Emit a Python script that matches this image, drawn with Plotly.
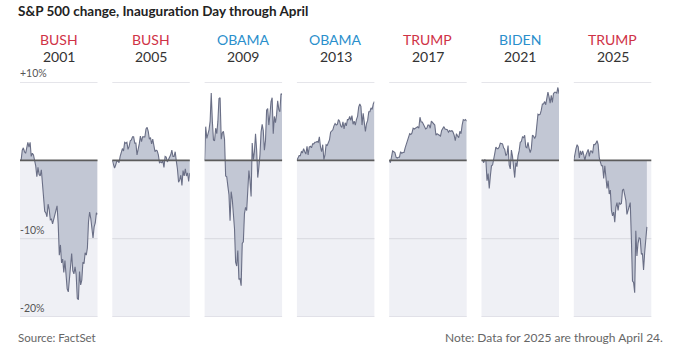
import plotly.graph_objects as go

W, H = 679, 362

presidents = ["BUSH", "BUSH", "OBAMA", "OBAMA", "TRUMP", "BIDEN", "TRUMP"]
years = ["2001", "2005", "2009", "2013", "2017", "2021", "2025"]
parties = ["R", "R", "D", "D", "R", "D", "R"]

# % change vs. close before Inauguration Day, trading days through April
chg_2001 = [0, 0.0, 1.3, 1.6, 1.1, 0.9, 1.6, 2.3, 1.7,
            2.3, 0.5, 0.9, 0.7, -0.1, -0.7, -2.1, -0.9, -1.8, -2.0, -1.2, -3.1, -4.7, -6.5, -6.7, -7.2, -5.6, -6.3, -7.6,
            -7.5, -8.1, -7.5, -6.6, -6.0, -5.8, -8.1, -12.1, -10.8, -13.1, -12.6, -14.3, -12.8, -14.9, -16.4, -16.8,
            -15.1, -14.1, -11.9, -14.1, -14.5, -13.6,
            -14.6, -17.6, -17.8, -14.2, -15.9, -15.3, -13.0, -13.2, -11.8, -12.1, -11.2, -7.8, -6.6, -7.4, -8.8, -9.9,
            -8.5, -8.0, -6.7, -6.9]
chg_2005 = [0, -0.6, -1.0, -0.6, -0.1, -0.1, -0.3, 0.5,
            1.2, 1.5, 1.2, 2.3, 2.2, 2.3, 1.4, 1.8, 2.5, 2.6, 3.0, 3.0, 2.2, 2.2, 0.7, 1.3, 2.1, 3.1, 2.4,
            3.0, 3.0, 3.0, 4.0, 4.2, 3.7, 2.7, 2.9, 2.1, 2.7, 1.9, 1.1, 1.3, 1.2, 0.7, -0.3, -0.2, -0.3, -0.1, -0.9,
            0.5, 0.4,
            -0.2, 0.1, 0.5, 0.7, 1.3, 0.5, 0.5, 1.1, -0.1, -1.1, -2.8, -2.5, -1.9, -3.2, -1.3, -2.0, -1.1, -2.0,
            -1.6, -2.7, -1.6]
chg_2009 = [0, 4.3, 2.8, 3.3, 3.9, 5.0, 8.6, 5.0, 2.6,
            2.5, 4.1, 3.4, 5.0, 7.9, 8.0, 2.7, 3.5, 3.7, 2.7, -2.0, -2.1, -3.3, -4.4, -7.7, -4.0, -5.0, -6.5, -8.7,
            -13.0, -13.5, -11.5, -15.2, -15.1, -16.0, -10.6, -10.4, -6.8, -6.0, -6.4, -3.4, -1.3, -2.6, -4.6, 2.2,
            0.1, 1.1, 3.4, 1.3, -2.2, -0.9,
            0.7, 3.6, 4.6, 3.8, 1.3, 2.5, 6.4, 6.6, 4.5, 5.8, 7.5, 8.0, 3.4, 5.6, 4.8, 5.8, 7.6, 6.5, 6.2, 8.5, 8.4]
chg_2013 = [0, 0.4, 0.6, 0.6, 1.1, 1.0, 1.5, 1.1, 0.8,
            1.8, 0.7, 1.7, 1.8, 1.6, 2.1, 2.1, 2.3, 2.3, 2.4, 2.3, 3.0, 1.7, 1.1, 2.0, 0.1, 0.7, 2.0, 1.9,
            2.2, 2.6, 3.6, 3.7, 3.9, 4.4, 4.7, 4.5, 4.6, 5.2, 5.0, 4.4, 4.2, 4.9, 4.0, 4.8, 4.4, 5.2, 5.2, 5.6,
            5.1, 5.7, 4.6, 5.0, 4.5, 5.2, 5.6, 6.8, 7.2, 6.9, 4.5, 6.0, 4.4, 3.7, 4.7, 5.1, 6.2, 6.2, 6.7, 6.5,
            7.2, 7.5]
chg_2017 = [0, -0.3, 0.4, 1.2, 1.1, 1.0, 0.4, 0.3,
            0.4, 0.4, 1.1, 0.9, 1.0, 1.0, 1.6, 2.0, 2.5, 2.9, 3.4, 3.3, 3.5, 4.1, 4.0, 4.1, 4.2, 4.3, 4.1,
            5.5, 4.9, 4.9, 4.6, 4.3, 4.0, 4.1, 4.5, 4.5, 4.1, 5.0, 4.8, 4.7, 4.5, 3.2, 3.4, 3.3, 3.2, 3.1, 3.8,
            4.0, 4.3, 4.0,
            3.9, 3.9, 3.6, 3.8, 3.7, 3.8, 3.6, 3.2, 2.5, 3.4, 3.1, 2.9, 3.7, 3.4, 4.5, 5.2, 5.1, 5.2, 5.0]
chg_2021 = [0, 0.0, -0.3, 0.1, -0.1, -2.6, -1.7, -3.6,
            -2.0, -0.7, -0.6, 0.5, 0.9, 1.7, 1.5, 1.5, 1.7, 2.2, 2.1, 2.1, 1.6, 1.4, 0.6, 0.8, 1.9, -0.6, -1.1,
            1.3, 0.5, -0.8, -2.2, -0.3, -0.8, 0.6, 1.2, 2.3, 2.4, 3.0, 2.9, 3.2, 1.7, 1.6, 2.3, 1.5, 1.0, 1.5,
            3.2, 3.1, 2.8, 3.1,
            4.4, 5.9, 5.8, 5.9, 6.4, 7.2, 7.2, 7.5, 7.1, 8.3, 8.7, 8.1, 7.3, 8.3, 7.4, 8.5, 8.7, 8.7, 8.6, 9.3, 8.5]
chg_2025 = [0, 0.9, 1.5, 2.0, 1.7, 0.3, 1.2, 0.7, 1.2, 0.7,
            0.0, 0.7, 1.1, 1.4, 0.5, 1.2, 1.2, 0.9, 2.0, 2.0, 2.2, 2.5, 2.0, 0.3, -0.2, -0.7, -0.7, -2.3, -0.7,
            -2.5, -3.6, -2.6, -4.3, -3.8, -6.4, -7.1, -6.6, -7.9, -6.0, -5.4, -6.4, -5.4, -5.6, -5.5, -3.8, -3.7,
            -4.7, -5.1, -6.9, -6.4,
            -6.1, -5.4, -10.0, -15.4, -15.6, -16.9, -9.0, -12.2, -10.6, -9.9, -10.0, -12.0, -11.9, -14.0, -11.8,
            -10.4, -8.5]
series = [chg_2001, chg_2005, chg_2009, chg_2013, chg_2017, chg_2021, chg_2025]
# trading days in the full window (Inauguration through April 30)
full_days = [70, 70, 71, 70, 69, 71, 71]

y_ticks = [10, -10, -20]
y_tick_labels = ["+10%", "-10%", "-20%"]

RED, BLUE = "#cf3246", "#2a8fcc"
FILL, LINE = "#c2c7d4", "#6a6f86"
NEG_BG, GRID, ZERO = "#eff0f5", "#dcdde3", "#5c5c5c"
FONT = "Lato"


def px(x):
    return x / W


def py(y):
    return 1 - y / H


fig = go.Figure()
left0, pitch, pw = 20.0, 92.3, 77.5
ytop, ybot = 82.0, 317.0
shapes, annotations = [], []

for i, (vals, n) in enumerate(zip(series, full_days)):
    xa = "x" if i == 0 else f"x{i + 1}"
    lay = "xaxis" if i == 0 else f"xaxis{i + 1}"
    l = left0 + pitch * i
    fig.add_trace(go.Scatter(
        x=list(range(len(vals))), y=vals, xaxis=xa, yaxis="y",
        mode="lines", fill="tozeroy", fillcolor=FILL,
        line=dict(color=LINE, width=1.1), hoverinfo="skip", showlegend=False))
    fig.update_layout({lay: dict(domain=[px(l), px(l + pw)], range=[0, n - 1], anchor="y",
                                 showgrid=False, zeroline=False, showticklabels=False,
                                 showline=False, ticks="", fixedrange=True)})
    shapes.append(dict(type="rect", xref=f"{xa} domain", yref="y", x0=0, x1=1, y0=-20, y1=0,
                       fillcolor=NEG_BG, line=dict(width=0), layer="below"))
    for t in y_ticks:
        shapes.append(dict(type="line", xref=f"{xa} domain", yref="y", x0=0, x1=1, y0=t, y1=t,
                           line=dict(color=GRID, width=1.3), layer="below"))
    shapes.append(dict(type="line", xref=f"{xa} domain", yref="y", x0=0, x1=1, y0=0, y1=0,
                       line=dict(color=ZERO, width=1.6), layer="above"))
    cx = px(l + pw / 2)
    annotations.append(dict(text=presidents[i], x=cx, y=py(40), xref="paper", yref="paper",
                            showarrow=False, xanchor="center", yanchor="middle",
                            font=dict(family=FONT, size=14,
                                      color=RED if parties[i] == "R" else BLUE)))
    annotations.append(dict(text=years[i], x=cx, y=py(57), xref="paper", yref="paper",
                            showarrow=False, xanchor="center", yanchor="middle",
                            font=dict(family=FONT, size=14, color="#333333")))

for t, lab in zip(y_ticks, y_tick_labels):
    annotations.append(dict(text=lab, x=px(18), y=t, xref="paper", yref="y",
                            showarrow=False, xanchor="left", yanchor="bottom", yshift=1,
                            font=dict(family=FONT, size=10.5, color="#555555")))

annotations.append(dict(text="<b>S&P 500 change, Inauguration Day through April</b>",
                        x=px(16), y=py(11), xref="paper", yref="paper", showarrow=False,
                        xanchor="left", yanchor="middle",
                        font=dict(family=FONT, size=13.5, color="#222222")))
annotations.append(dict(text="Source: FactSet", x=px(16), y=py(337), xref="paper", yref="paper",
                        showarrow=False, xanchor="left", yanchor="middle",
                        font=dict(family=FONT, size=11.5, color="#666666")))
annotations.append(dict(text="Note: Data for 2025 are through April 24.", x=px(665), y=py(337),
                        xref="paper", yref="paper", showarrow=False, xanchor="right",
                        yanchor="middle", font=dict(family=FONT, size=12, color="#666666")))

fig.update_layout(
    width=W, height=H, autosize=False,
    margin=dict(l=0, r=0, t=0, b=0),
    paper_bgcolor="white", plot_bgcolor="white",
    yaxis=dict(domain=[py(ybot), py(ytop)], range=[-20, 10], anchor="x",
               showgrid=False, zeroline=False, showticklabels=False, showline=False,
               ticks="", fixedrange=True),
    shapes=shapes, annotations=annotations,
)

fig.write_html("out.html", config={"displayModeBar": False},
               post_script="document.body.style.margin='0px';document.body.style.overflow='hidden';")
